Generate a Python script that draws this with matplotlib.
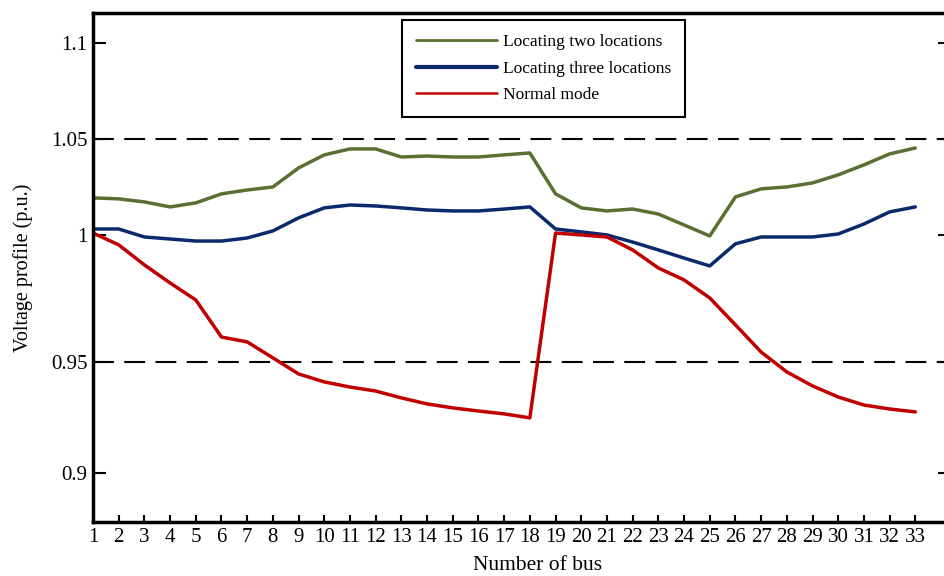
import matplotlib.pyplot as plt
import numpy as np

plt.rcParams['font.family'] = ['Liberation Serif', 'DejaVu Serif']

# Data (voltage in p.u. at each bus)
buses = np.arange(1, 34)
two_locations = [1.0193, 1.0188, 1.0172, 1.0146, 1.0167, 1.0214, 1.0234, 1.0250, 1.0349, 1.0417,
                 1.0448, 1.0448, 1.0406, 1.0411, 1.0406, 1.0406, 1.0417, 1.0427, 1.0214, 1.0141,
                 1.0125, 1.0135, 1.0109, 1.0052, 0.9996, 1.0198, 1.0240, 1.0250, 1.0271, 1.0313,
                 1.0365, 1.0422, 1.0453]
three_locations = [1.0031, 1.0031, 0.9992, 0.9984, 0.9976, 0.9976, 0.9988, 1.0021, 1.0089, 1.0141,
                   1.0156, 1.0151, 1.0141, 1.0130, 1.0125, 1.0125, 1.0135, 1.0146, 1.0031, 1.0016,
                   1.0000, 0.9972, 0.9941, 0.9909, 0.9878, 0.9965, 0.9992, 0.9992, 0.9992, 1.0005,
                   1.0057, 1.0120, 1.0146]
normal_mode = [1.0010, 0.9961, 0.9882, 0.9811, 0.9744, 0.9598, 0.9579, 0.9516, 0.9446, 0.9410,
               0.9387, 0.9369, 0.9338, 0.9311, 0.9293, 0.9279, 0.9266, 0.9248, 1.0010, 1.0000,
               0.9992, 0.9941, 0.9870, 0.9823, 0.9752, 0.9646, 0.9539, 0.9455, 0.9392, 0.9342,
               0.9306, 0.9288, 0.9275]

ytick_vals = [0.9, 0.95, 1.0, 1.05, 1.1]
ytick_labels = ['0.9', '0.95', '1', '1.05', '1.1']
xtick_labels = [str(b) for b in buses]

# the original y axis is not evenly spaced -> piecewise linear scale
scale_v = np.array([0.8, 0.9, 0.95, 1.0, 1.05, 1.1, 1.2])
scale_h = np.array([-173, 49, 160, 287, 383, 479, 671], dtype=float)


def fwd(v):
    return np.interp(v, scale_v, scale_h)


def inv(h):
    return np.interp(h, scale_h, scale_v)


fig = plt.figure(figsize=(9.44, 5.76), dpi=100)
ax = fig.add_axes([93 / 944, 54 / 576, 857 / 944, 509 / 576])
ax.set_yscale('function', functions=(fwd, inv))

ax.axhline(1.05, color='black', lw=1.5, dashes=(10, 5))
ax.axhline(0.95, color='black', lw=1.5, dashes=(10, 5))

ax.plot(buses, two_locations, color='#5a7032', lw=2.5, solid_joinstyle='round',
        solid_capstyle='round', label='Locating two locations')
ax.plot(buses, three_locations, color='#0b2a6b', lw=2.5, solid_joinstyle='round',
        solid_capstyle='round', label='Locating three locations')
ax.plot(buses, normal_mode, color='#c00000', lw=2.5, solid_joinstyle='round',
        solid_capstyle='round', label='Normal mode')

ax.set_xlim(1, 34.35)
ax.set_ylim(0.8779, 1.1156)
ax.set_xticks(buses)
ax.set_xticklabels(xtick_labels)
ax.set_yticks(ytick_vals)
ax.set_yticklabels(ytick_labels)
ax.tick_params(axis='y', direction='in', length=9, width=1.5, right=True, labelsize=15, pad=4)
ax.tick_params(axis='x', direction='in', length=5, width=1.5, labelsize=15, pad=4)
for s in ax.spines.values():
    s.set_linewidth(2.5)

ax.set_xlabel('Number of bus', fontsize=15.5, labelpad=7)
ax.xaxis.label.set_x(0.519)
ax.set_ylabel('Voltage profile (p.u.)', fontsize=14.5, labelpad=13)

leg = fig.legend(loc='upper left', bbox_to_anchor=(402 / 944, 1 - 20 / 576), borderaxespad=0,
                 fontsize=12.5, handlelength=4.7, handletextpad=0.3, labelspacing=0.6,
                 fancybox=False, framealpha=1, edgecolor='black', borderpad=0.8)
leg.get_frame().set_linewidth(1.5)
for ln, w in zip(leg.get_lines(), [2, 3, 1.8]):
    ln.set_linewidth(w)

plt.savefig('out.png', dpi=100)
